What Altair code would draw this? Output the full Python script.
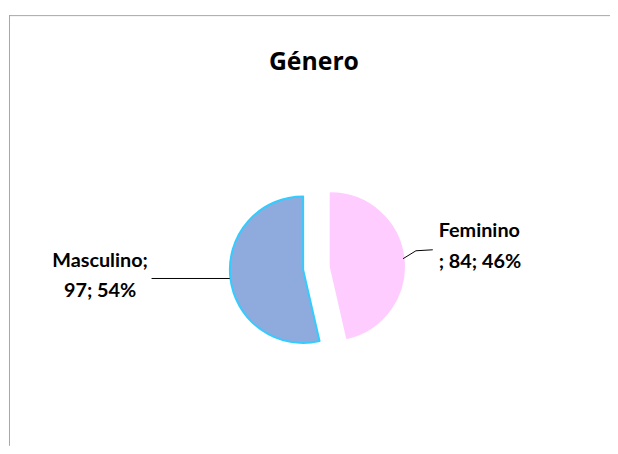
import altair as alt
import pandas as pd

# ---- data ----
categories = ["Feminino", "Masculino"]
counts = [84, 97]
slice_colors = ["#FFCCFF", "#8FAADC"]
edge_colors = ["#FFCCFF", "#33CCFF"]
title_text = "Género"

df = pd.DataFrame({"genero": categories, "n": counts})

# ---- layout constants ----
W, H = 608, 440
CX, CY = 312, 260.5
R = 74
EXPLODE = 14
LABEL_FONT = "Lato"

base = (
    alt.Chart(df)
    .transform_joinaggregate(total="sum(n)")
    .transform_window(cum="sum(n)", sort=[alt.SortField("genero")], frame=[None, 0])
    .transform_calculate(
        start="2*PI*(datum.cum - datum.n)/datum.total",
        end="2*PI*datum.cum/datum.total",
        pct="format(datum.n/datum.total, '.0%')",
    )
    .transform_calculate(
        mid="(datum.start + datum.end)/2",
    )
    .transform_calculate(
        cx=f"{CX} + {EXPLODE}*sin(datum.mid)",
        cy=f"{CY} - {EXPLODE}*cos(datum.mid)",
    )
)

pie = base.mark_arc(radius=R, strokeWidth=2, strokeJoin="round").encode(
    theta=alt.Theta("start:Q", scale=None),
    theta2="end:Q",
    x=alt.X("cx:Q", scale=None),
    y=alt.Y("cy:Q", scale=None),
    fill=alt.Fill("genero:N", scale=alt.Scale(domain=categories, range=slice_colors), legend=None),
    stroke=alt.Stroke("genero:N", scale=alt.Scale(domain=categories, range=edge_colors), legend=None),
)

lab_m = (
    base.transform_filter("datum.genero == 'Masculino'")
    .transform_calculate(lines="[datum.genero + ';', datum.n + '; ' + datum.pct]")
    .mark_text(font=LABEL_FONT, fontSize=20, fontWeight="bold", align="center",
               baseline="alphabetic", lineHeight=31, color="#000000")
    .encode(text="lines:N", x=alt.value(93), y=alt.value(259))
)

lab_f = (
    base.transform_filter("datum.genero == 'Feminino'")
    .transform_calculate(lines="[datum.genero, '; ' + datum.n + '; ' + datum.pct]")
    .mark_text(font=LABEL_FONT, fontSize=20, fontWeight="bold", align="left",
               baseline="alphabetic", lineHeight=31, color="#000000")
    .encode(text="lines:N", x=alt.value(435), y=alt.value(229))
)

one = pd.DataFrame({"k": [0]})
deco = alt.Chart(one)

lead_m = deco.mark_rule(color="#000000", strokeWidth=1).encode(
    x=alt.value(145), x2=alt.value(224), y=alt.value(271), y2=alt.value(271))
lead_f1 = deco.mark_rule(color="#000000", strokeWidth=1).encode(
    x=alt.value(399), x2=alt.value(412), y=alt.value(251), y2=alt.value(243))
lead_f2 = deco.mark_rule(color="#000000", strokeWidth=1).encode(
    x=alt.value(412), x2=alt.value(429), y=alt.value(243), y2=alt.value(242))

border_top = deco.mark_rule(color="#A6A6A6", strokeWidth=1).encode(
    x=alt.value(1), x2=alt.value(W), y=alt.value(5.5), y2=alt.value(5.5))
border_left = deco.mark_rule(color="#A6A6A6", strokeWidth=1).encode(
    x=alt.value(1.5), x2=alt.value(1.5), y=alt.value(5), y2=alt.value(H))

title = deco.mark_text(font="Open Sans", fontSize=25, fontWeight="bold",
                       align="center", baseline="alphabetic", color="#000000").encode(
    text=alt.value(title_text), x=alt.value(309), y=alt.value(60))

chart = (
    alt.layer(border_top, border_left, pie, lead_m, lead_f1, lead_f2, lab_m, lab_f, title)
    .properties(width=W, height=H, padding=0, autosize=alt.AutoSizeParams(type="none"),
                background="#FFFFFF")
    .configure_view(stroke=None)
)

chart.save("out.html", embed_options={"renderer": "svg", "actions": False})
